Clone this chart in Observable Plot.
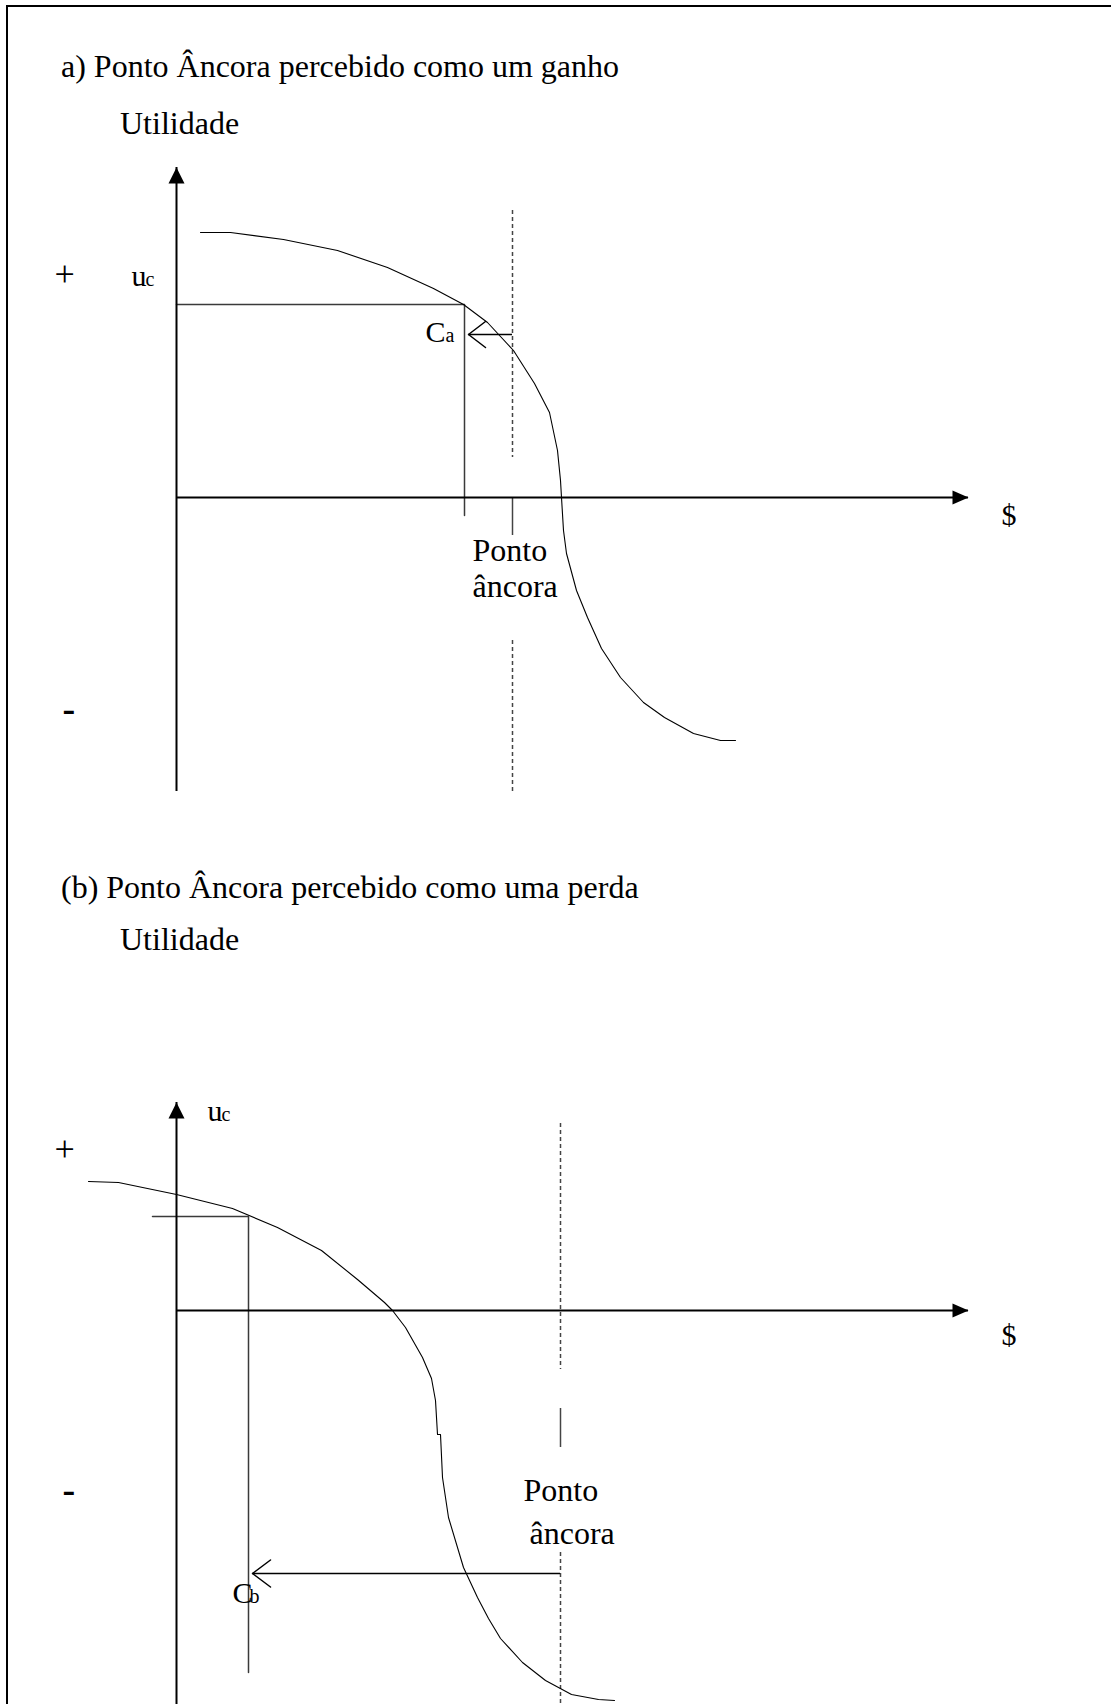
<!DOCTYPE html>
<html><head><meta charset="utf-8">
<script src="https://cdn.jsdelivr.net/npm/d3@7"></script>
<script src="https://cdn.jsdelivr.net/npm/@observablehq/plot@0.6"></script>
<style>
html,body{margin:0;padding:0;background:#fff;}
body{width:1111px;height:1704px;position:relative;overflow:hidden;font-family:"Liberation Serif","Times New Roman",serif;color:#000;}
#frame{position:absolute;left:6px;top:5px;width:1200px;height:1800px;border-left:2px solid #000;border-top:2px solid #000;}
.ttl{position:absolute;font-size:32px;line-height:32px;white-space:nowrap;}
.panel{position:absolute;left:0;}
</style></head><body>
<div id="frame"></div>
<div class="ttl" id="titleA" style="left:61px;top:50px"></div>
<div class="ttl" id="ylabA" style="left:120px;top:107px"></div>
<div class="panel" id="panelA" style="top:140px"></div>
<div class="ttl" id="titleB" style="left:61px;top:871px"></div>
<div class="ttl" id="ylabB" style="left:120px;top:923px"></div>
<div class="panel" id="panelB" style="top:960px"></div>
<script>
// ---------- texts ----------
const titles = ["a) Ponto Âncora percebido como um ganho", "(b) Ponto Âncora percebido como uma perda"];
const yAxisName = "Utilidade";
const xAxisName = "$";
const anchorWords = ["Ponto", "âncora"];
const signs = ["+", "-"];

// ---------- panel (a): values in units ($ to the right, utility up), origin at axes crossing ----------
const curveA = [[0.24,2.65],[0.54,2.65],[1.07,2.58],[1.61,2.47],[2.11,2.30],[2.57,2.09],[2.87,1.93],[3.11,1.75],[3.37,1.47],[3.58,1.14],[3.73,0.85],[3.81,0.47],[3.84,0.17],[3.85,0.00],[3.87,-0.33],[3.90,-0.56],[4.00,-0.93],[4.11,-1.20],[4.25,-1.51],[4.44,-1.80],[4.67,-2.05],[4.88,-2.20],[5.17,-2.36],[5.44,-2.43],[5.59,-2.43]];
const xAxisA = [0, 7.92];
const yAxisA = [-2.94, 3.30];
const ucA = [0, 1.93];            // utility line: from x, at y
const cA = [2.88, -0.18];         // C_a: x, lower end
const anchorA = 3.36;
const anchorDashA = [[2.87, 0.40], [-1.43, -2.97]];
const anchorSolidA = [0, -0.38];
const shiftA = [3.36, 2.92, 1.63]; // from x, to x, at y
const plusA = [-1.22, 2.12], minusA = [-1.14, -2.23];
const ucLabelA = [-0.45, 2.12], cLabelA = [2.49, 1.56], dollarA = [8.25, -0.27];
const anchorLabelA = [[2.96, -0.63], [2.96, -0.99]];

// ---------- panel (b) ----------
const curveB = [[-0.88,1.29],[-0.58,1.28],[0.00,1.16],[0.56,1.02],[1.01,0.83],[1.45,0.60],[1.81,0.31],[2.08,0.08],[2.16,0.00],[2.29,-0.17],[2.46,-0.47],[2.55,-0.68],[2.59,-0.90],[2.61,-1.24],[2.64,-1.24],[2.66,-1.67],[2.72,-2.07],[2.87,-2.57],[3.01,-2.87],[3.12,-3.08],[3.24,-3.28],[3.46,-3.52],[3.69,-3.70],[3.95,-3.84],[4.22,-3.89],[4.38,-3.90]];
const xAxisB = [0, 7.92];
const yAxisB = [-4.05, 2.08];
const ucB = [-0.24, 0.94];
const cB = [0.72, -3.62];
const anchorB = 3.84;
const anchorDashB = [[1.87, -0.59], [-2.42, -4.05]];
const anchorSolidB = [-0.98, -1.37];
const shiftB = [3.84, 0.76, -2.63];
const plusB = [-1.22, 1.50], minusB = [-1.14, -1.91];
const ucLabelB = [0.31, 1.90], cLabelB = [0.56, -2.92], dollarB = [8.25, -0.34];
const anchorLabelB = [[3.47, -1.90], [3.53, -2.33]];

// ---------- drawing ----------
document.getElementById("titleA").textContent = titles[0];
document.getElementById("titleB").textContent = titles[1];
document.getElementById("ylabA").textContent = yAxisName;
document.getElementById("ylabB").textContent = yAxisName;

const SERIF = "Liberation Serif, Times New Roman, serif";
const PX = 100, ORIGIN_X = 176, W = 1111;
const chevron = {draw(ctx, l, r) { ctx.moveTo(-r, 0); ctx.lineTo(0, -l); ctx.lineTo(r, 0); }};

function txt(point, s, size, extra = {}) {
  return Plot.text([point], {x: d => d[0], y: d => d[1], text: () => s, fontSize: size,
    fontFamily: SERIF, textAnchor: "start", lineAnchor: "bottom", fill: "#000", ...extra});
}

function panel(o) {
  return Plot.plot({
    width: W, height: o.height, margin: 0,
    x: {type: "linear", domain: [-ORIGIN_X / PX, (W - ORIGIN_X) / PX], range: [0, W], axis: null},
    y: {type: "linear", domain: [(o.originY - o.top) / PX, (o.originY - o.top - o.height) / PX], range: [0, o.height], axis: null},
    style: {background: "transparent", overflow: "visible"},
    marks: [
      // guide lines (utility level and C)
      Plot.line([[o.uc[0], o.uc[1]], [o.c[0], o.uc[1]], [o.c[0], o.c[1]]], {stroke: "#3a3a3a", strokeWidth: 1.5}),
      // anchor point dashed line and solid segment
      Plot.ruleX(o.dash, {x: o.anchor, y1: d => d[0], y2: d => d[1], stroke: "#444", strokeWidth: 1.5, strokeDasharray: "4,3"}),
      Plot.ruleX([o.solid], {x: o.anchor, y1: d => d[0], y2: d => d[1], stroke: "#444", strokeWidth: 1.5}),
      // axes
      Plot.ruleY([0], {x1: o.xAxis[0], x2: o.xAxis[1], stroke: "#000", strokeWidth: 2}),
      Plot.vector([[o.xAxis[1], 0]], {x: d => d[0], y: d => d[1], shape: "spike", length: 16, r: 7, rotate: 90, anchor: "end", fill: "#000", stroke: "none"}),
      Plot.ruleX([0], {y1: o.yAxis[0], y2: o.yAxis[1], stroke: "#000", strokeWidth: 2}),
      Plot.vector([[0, o.yAxis[1]]], {x: d => d[0], y: d => d[1], shape: "spike", length: 16, r: 8, rotate: 0, anchor: "end", fill: "#000", stroke: "none"}),
      // utility curve
      Plot.line(o.curve, {stroke: "#000", strokeWidth: 1.1}),
      // shift arrow
      Plot.ruleY([o.shift[2]], {x1: o.shift[0], x2: o.shift[1], stroke: "#000", strokeWidth: 1.5}),
      Plot.vector([[o.shift[1], o.shift[2]]], {x: d => d[0], y: d => d[1], shape: chevron, length: o.headL, r: o.headR, rotate: -90, anchor: "end", stroke: "#000", strokeWidth: 1.5, fill: "none"}),
      // labels
      txt(o.plus, signs[0], 36),
      txt(o.minus, signs[1], 38, {fontWeight: "bold"}),
      txt(o.ucLabel, "u", 30),
      txt(o.ucLabel, "c", 20, {dx: 14}),
      txt(o.cLabel, "C", 30),
      txt(o.cLabel, o.sub, 20, {dx: o.subDx}),
      txt(o.dollar, xAxisName, 30),
      txt(o.anchorLabel[0], anchorWords[0], 32),
      txt(o.anchorLabel[1], anchorWords[1], 32)
    ]
  });
}

document.getElementById("panelA").append(panel({
  top: 140, height: 670, originY: 497,
  curve: curveA, xAxis: xAxisA, yAxis: yAxisA, uc: ucA, c: cA, anchor: anchorA,
  dash: anchorDashA, solid: anchorSolidA, shift: shiftA, headL: 17, headR: 13,
  plus: plusA, minus: minusA, ucLabel: ucLabelA, cLabel: cLabelA, sub: "a", subDx: 20,
  dollar: dollarA, anchorLabel: anchorLabelA
}));
document.getElementById("panelB").append(panel({
  top: 960, height: 744, originY: 1310,
  curve: curveB, xAxis: xAxisB, yAxis: yAxisB, uc: ucB, c: cB, anchor: anchorB,
  dash: anchorDashB, solid: anchorSolidB, shift: shiftB, headL: 18, headR: 13.5,
  plus: plusB, minus: minusB, ucLabel: ucLabelB, cLabel: cLabelB, sub: "b", subDx: 17,
  dollar: dollarB, anchorLabel: anchorLabelB
}));
</script>
</body></html>
